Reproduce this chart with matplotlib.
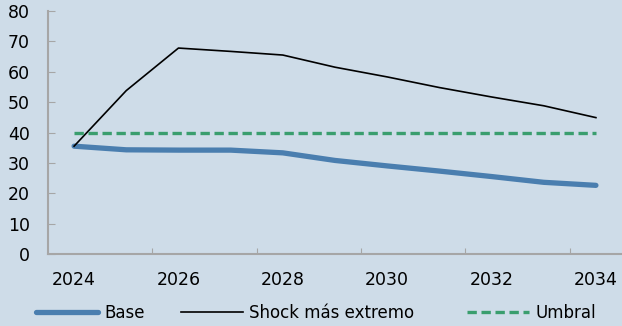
import numpy as np
import matplotlib.pyplot as plt

years = np.arange(2024, 2035)
base = [35.5, 34.3, 34.2, 34.2, 33.3, 30.8, 29.0, 27.3, 25.5, 23.6, 22.6]
shock = [35.5, 53.8, 67.8, 66.7, 65.5, 61.5, 58.3, 54.8, 51.7, 48.8, 44.9]
umbral = [40.0] * len(years)

bg = '#CEDCE8'
plt.rcParams['font.family'] = 'DejaVu Sans'
plt.rcParams['font.size'] = 12

fig = plt.figure(figsize=(6.22, 3.26), dpi=100, facecolor=bg)
ax = fig.add_axes([48 / 622, 1 - 254 / 326, 574 / 622, 243 / 326])
ax.set_facecolor(bg)

l1, = ax.plot(years, base, color='#4A7EAF', lw=3.8, solid_capstyle='round', label='Base')
l2, = ax.plot(years, shock, color='black', lw=1.2, label='Shock más extremo')
l3, = ax.plot(years, umbral, color='#3A9E6E', lw=2.4, dashes=(2.8, 1.4), label='Umbral')

ax.set_xlim(2023.5, 2034.5)
ax.set_ylim(0, 80)
ax.set_yticks(range(0, 81, 10))
ax.set_xticks(np.arange(2025.5, 2034, 2))
ax.set_xticklabels([])
ax.set_xticks(np.arange(2024, 2035, 2), minor=True)
ax.set_xticklabels([str(y) for y in range(2024, 2035, 2)], minor=True)
ax.tick_params(axis='x', which='minor', length=0, pad=12, labelsize=12.5)
ax.tick_params(axis='x', which='major', direction='in', length=4, color='#A6A6A6')
ax.tick_params(axis='y', direction='in', length=5, color='#A6A6A6', pad=13, labelsize=12.5)

for s in ['top', 'right']:
    ax.spines[s].set_visible(False)
for s in ['left', 'bottom']:
    ax.spines[s].set_color('#A6A6A6')
    ax.spines[s].set_linewidth(1.5)

# legend entries placed one by one, as in the original
for h, x0 in [(l1, 36), (l2, 181), (l3, 467)]:
    fig.legend(handles=[h], loc='center left', bbox_to_anchor=(x0 / 622, 13 / 326),
               frameon=False, handlelength=3.7, handletextpad=0.4,
               borderaxespad=0, borderpad=0)

fig.savefig('out.png', dpi=100, facecolor=bg)
